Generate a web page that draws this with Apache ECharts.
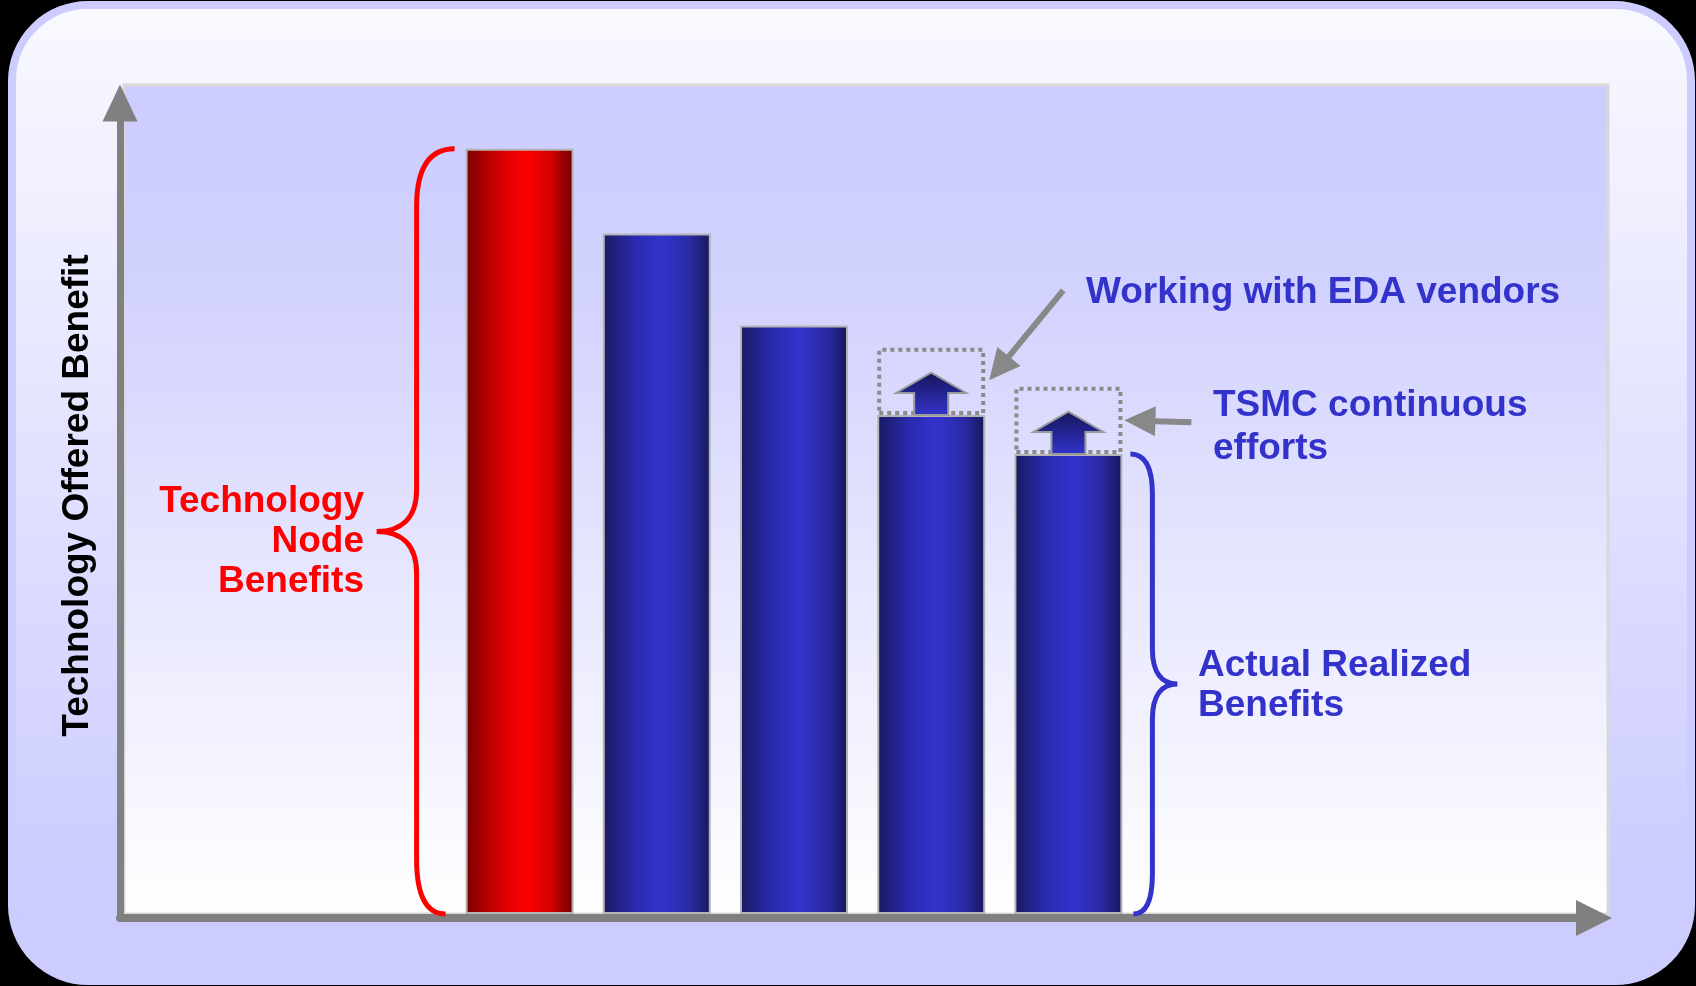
<!DOCTYPE html>
<html>
<head>
<meta charset="utf-8">
<script src="https://cdn.jsdelivr.net/npm/echarts@6/dist/echarts.min.js"></script>
<style>
  html, body { margin: 0; padding: 0; background: #000; }
  #chart { width: 1696px; height: 986px; }
</style>
</head>
<body>
<div id="chart"></div>
<script>
// ---- data ----
const categories = ['Node 1', 'Node 2', 'Node 3', 'Node 4', 'Node 5'];
const barKinds = ['node', 'realized', 'realized', 'realized', 'realized'];
const realizedBenefit = [92.3, 82.1, 71.0, 60.2, 55.5];
const improvementRoom = [null, null, null, 8.1, 8.1];
const arrowTip = [null, null, null, 65.3, 60.6];
const yTitle = 'Technology Offered Benefit';
const nodeLabel = 'Technology\nNode\nBenefits';
const realizedLabel = 'Actual Realized\nBenefits';
const edaLabel = 'Working with EDA vendors';
const tsmcLabel = 'TSMC continuous\nefforts';

// ---- styles ----
const FONT = '"Liberation Sans", Arial, sans-serif';
const BLUE = '#3333cc';
const RED = '#ff0000';
const BAR_W = 108;

function barGradient(kind) {
  if (kind === 'node') {
    return new echarts.graphic.LinearGradient(0, 0, 1, 0, [
      { offset: 0, color: '#7a0000' },
      { offset: 0.3, color: '#d00000' },
      { offset: 0.55, color: '#ff0000' },
      { offset: 0.8, color: '#d00000' },
      { offset: 1, color: '#6a0000' }
    ]);
  }
  return new echarts.graphic.LinearGradient(0, 0, 1, 0, [
    { offset: 0, color: '#1a1a62' },
    { offset: 0.3, color: '#2a2ab0' },
    { offset: 0.55, color: '#3333cc' },
    { offset: 0.8, color: '#2a2aa6' },
    { offset: 1, color: '#18185a' }
  ]);
}

const braceStyles = [
  { color: RED, vOff: -103, topEnd: -65, botEnd: -74, tipOff: -143, rT: 58, rM: 42, rB: 55 },
  { color: BLUE, vOff: 84, topEnd: 62, botEnd: 65, tipOff: 109, rT: 40, rM: 35, rB: 40 }
];
const braceData = [[0, 0, realizedBenefit[0]], [4, 0, realizedBenefit[4]]];

const arrowData = [];
arrowTip.forEach((t, i) => { if (t != null) arrowData.push([i, realizedBenefit[i], t]); });

const chart = echarts.init(document.getElementById('chart'), null, { renderer: 'canvas' });

const option = {
  animation: false,
  backgroundColor: 'transparent',
  grid: [
    { left: 120, right: 102, top: 103, bottom: 68 },
    { left: 451, right: 559, top: 85, bottom: 72 }
  ],
  xAxis: [
    {
      gridIndex: 0, type: 'category', data: [''],
      axisLine: { show: true, symbol: ['none', 'triangle'], symbolSize: [36, 36],
        lineStyle: { color: '#808080', width: 8 } },
      axisTick: { show: false }, axisLabel: { show: false }, splitLine: { show: false }
    },
    {
      gridIndex: 1, type: 'category', data: categories,
      axisLine: { show: false }, axisTick: { show: false }, axisLabel: { show: false }, splitLine: { show: false }
    }
  ],
  yAxis: [
    {
      gridIndex: 0, type: 'value', min: 0, max: 1,
      name: yTitle, nameLocation: 'middle', nameGap: 24, nameRotate: 90,
      nameTextStyle: { fontFamily: FONT, fontSize: 37, fontWeight: 'bold', color: '#000', padding: [0, 0, 0, 30] },
      axisLine: { show: true, symbol: ['none', 'triangle'], symbolSize: [35, 37],
        lineStyle: { color: '#808080', width: 7 } },
      axisTick: { show: false }, axisLabel: { show: false }, splitLine: { show: false }
    },
    {
      gridIndex: 1, type: 'value', min: 0, max: 100,
      axisLine: { show: false }, axisTick: { show: false }, axisLabel: { show: false }, splitLine: { show: false }
    }
  ],
  series: [
    {
      name: 'Benefit', type: 'bar', xAxisIndex: 1, yAxisIndex: 1, stack: 'total', barWidth: BAR_W,
      data: realizedBenefit.map((v, i) => ({
        value: v,
        itemStyle: { color: barGradient(barKinds[i]), borderColor: '#b4b4b4', borderWidth: 2 }
      })),
      z: 3
    },
    {
      name: 'Improvement', type: 'bar', xAxisIndex: 1, yAxisIndex: 1, stack: 'total', barWidth: BAR_W,
      data: improvementRoom.map(v => (v == null ? '-' : v)),
      itemStyle: { color: 'rgba(0,0,0,0)', borderColor: '#8a8a8a', borderWidth: 4, borderType: [4, 4] },
      z: 4
    },
    {
      name: 'Gain arrows', type: 'custom', xAxisIndex: 1, yAxisIndex: 1, data: arrowData,
      encode: { x: 0, y: 2 }, z: 5,
      renderItem: function (params, api) {
        const cat = api.value(0);
        const base = api.coord([cat, api.value(1)]);
        const tip = api.coord([cat, api.value(2)]);
        const cx = base[0];
        const h = base[1] - tip[1];
        const headY = tip[1] + h * 0.48;
        return {
          type: 'polygon',
          shape: { points: [
            [cx, tip[1]], [cx + 35, headY], [cx + 17, headY], [cx + 17, base[1]],
            [cx - 17, base[1]], [cx - 17, headY], [cx - 35, headY]
          ] },
          style: {
            fill: new echarts.graphic.LinearGradient(0, 0, 0, 1, [
              { offset: 0, color: '#15155a' }, { offset: 1, color: '#3333cc' }
            ]),
            stroke: '#9a9a9a', lineWidth: 2
          }
        };
      }
    },
    {
      name: 'Braces', type: 'custom', xAxisIndex: 1, yAxisIndex: 1, data: braceData,
      encode: { x: 0, y: 2 }, z: 5, clip: false,
      renderItem: function (params, api) {
        const s = braceStyles[params.dataIndex];
        const cat = api.value(0);
        const bot = api.coord([cat, api.value(1)]);
        const top = api.coord([cat, api.value(2)]);
        const cx = bot[0];
        const v = cx + s.vOff;
        const yT = top[1], yB = bot[1], yM = (yT + yB) / 2;
        const tipX = cx + s.tipOff;
        const d = [
          'M', cx + s.topEnd, yT,
          'Q', v, yT, v, yT + s.rT,
          'L', v, yM - s.rM,
          'C', v, yM - s.rM * 0.3, v + (tipX - v) * 0.4, yM, tipX, yM,
          'C', v + (tipX - v) * 0.4, yM, v, yM + s.rM * 0.3, v, yM + s.rM,
          'L', v, yB - s.rB,
          'Q', v, yB, cx + s.botEnd, yB
        ].join(' ');
        return {
          type: 'path',
          shape: { pathData: d },
          style: { fill: null, stroke: s.color, lineWidth: 5 }
        };
      }
    }
  ]
};

chart.setOption(option);

// ---- annotations positioned from the chart's own scales ----
function calloutArrow(tail, tip) {
  const dx = tip[0] - tail[0], dy = tip[1] - tail[1];
  const len = Math.sqrt(dx * dx + dy * dy);
  const ux = dx / len, uy = dy / len, nx = -uy, ny = ux;
  const hl = 31, hw = 15, sw = 3;
  const bx = tip[0] - ux * hl, by = tip[1] - uy * hl;
  return {
    type: 'polygon', z: 100,
    shape: { points: [
      [tail[0] + nx * sw, tail[1] + ny * sw], [bx + nx * sw, by + ny * sw], [bx + nx * hw, by + ny * hw],
      tip, [bx - nx * hw, by - ny * hw], [bx - nx * sw, by - ny * sw], [tail[0] - nx * sw, tail[1] - ny * sw]
    ] },
    style: { fill: '#888888' }
  };
}
const toPx = (c, v) => chart.convertToPixel({ xAxisIndex: 1, yAxisIndex: 1 }, [c, v]);
const b4 = toPx(3, realizedBenefit[3] + improvementRoom[3] / 2);
const b5 = toPx(4, realizedBenefit[4] + improvementRoom[4] / 2);
const tipEda = [b4[0] + BAR_W / 2 + 4, b4[1] - 1];
const tipTsmc = [b5[0] + BAR_W / 2 + 2, b5[1]];

const plotTL = [124, 85], plotBR = [1608, 914];

const textStyle = (color) => ({ fontFamily: FONT, fontSize: 37, fontWeight: 'bold', fill: color });

chart.setOption({
  graphic: [
    {
      type: 'rect', z: -20,
      shape: { x: 12, y: 5, width: 1679, height: 976, r: 76 },
      style: {
        fill: new echarts.graphic.LinearGradient(0, 0, 0, 1, [
          { offset: 0, color: '#f9f9ff' }, { offset: 0.9, color: '#ccccff' }, { offset: 1, color: '#ccccff' }
        ]),
        stroke: '#ccccff', lineWidth: 8
      }
    },
    {
      type: 'rect', z: -15,
      shape: { x: plotTL[0], y: plotTL[1], width: plotBR[0] - plotTL[0], height: plotBR[1] - plotTL[1] },
      style: {
        fill: new echarts.graphic.LinearGradient(0, 0, 0, 1, [
          { offset: 0, color: '#ccccff' }, { offset: 0.25, color: '#d2d2fe' }, { offset: 1, color: '#ffffff' }
        ]),
        stroke: '#d8d8d8', lineWidth: 3
      }
    },
    calloutArrow([tipEda[0] + 74, tipEda[1] - 90], tipEda),
    calloutArrow([tipTsmc[0] + 67, tipTsmc[1] + 2], tipTsmc),
    {
      type: 'text', z: 100, x: 364, y: 482,
      style: Object.assign(textStyle(RED), { text: nodeLabel, align: 'right', verticalAlign: 'top', lineHeight: 40 })
    },
    {
      type: 'text', z: 100, x: 1198, y: 646,
      style: Object.assign(textStyle(BLUE), { text: realizedLabel, align: 'left', verticalAlign: 'top', lineHeight: 40 })
    },
    {
      type: 'text', z: 100, x: 1086, y: 273,
      style: Object.assign(textStyle(BLUE), { text: edaLabel, align: 'left', verticalAlign: 'top', lineHeight: 40 })
    },
    {
      type: 'text', z: 100, x: 1213, y: 384,
      style: Object.assign(textStyle(BLUE), { text: tsmcLabel, align: 'left', verticalAlign: 'top', lineHeight: 43 })
    }
  ]
});
</script>
</body>
</html>
